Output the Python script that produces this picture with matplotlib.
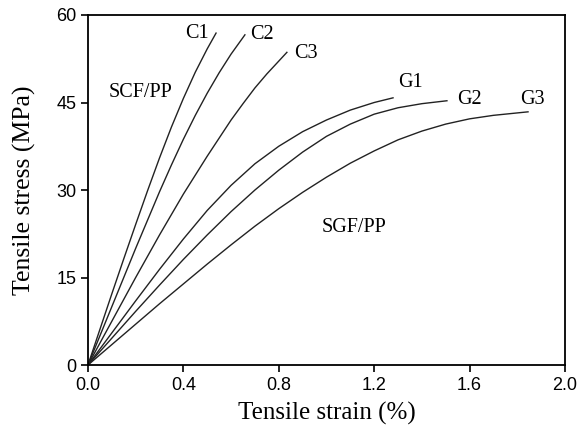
import numpy as np
import matplotlib
matplotlib.use("Agg")
import matplotlib.pyplot as plt

# strain (%) / stress (MPa)
c1_x = [0, 0.05, 0.1, 0.15, 0.2, 0.25, 0.3, 0.35, 0.4, 0.45, 0.5, 0.537]
c1_y = [0, 6.1, 12.2, 18.2, 24.1, 29.9, 35.5, 40.8, 45.7, 50.2, 54.2, 56.9]
c2_x = [0, 0.1, 0.2, 0.3, 0.35, 0.4, 0.45, 0.5, 0.55, 0.6, 0.658]
c2_y = [0, 10.0, 20.0, 29.7, 34.3, 38.7, 42.8, 46.6, 50.1, 53.3, 56.6]
c3_x = [0, 0.1, 0.2, 0.3, 0.4, 0.5, 0.55, 0.6, 0.65, 0.7, 0.75, 0.8, 0.834]
c3_y = [0, 7.5, 15.0, 22.3, 29.3, 35.8, 38.9, 42.0, 44.8, 47.5, 49.9, 52.1, 53.6]
g1_x = [0, 0.1, 0.2, 0.3, 0.4, 0.5, 0.6, 0.7, 0.8, 0.9, 1.0, 1.1, 1.2, 1.279]
g1_y = [0, 5.5, 11.0, 16.4, 21.6, 26.5, 30.8, 34.5, 37.5, 40.0, 42.0, 43.7, 45.0, 45.8]
g2_x = [0, 0.1, 0.2, 0.3, 0.4, 0.5, 0.6, 0.7, 0.8, 0.9, 1.0, 1.1, 1.2, 1.3, 1.4, 1.505]
g2_y = [0, 4.6, 9.2, 13.7, 18.1, 22.3, 26.3, 30.0, 33.4, 36.5, 39.2, 41.3, 43.0, 44.1, 44.8, 45.3]
g3_x = [0, 0.1, 0.2, 0.3, 0.4, 0.5, 0.6, 0.7, 0.8, 0.9, 1.0, 1.1, 1.2, 1.3, 1.4, 1.5, 1.6, 1.7, 1.845]
g3_y = [0, 3.5, 7.0, 10.5, 13.9, 17.3, 20.6, 23.8, 26.8, 29.6, 32.2, 34.6, 36.7, 38.6, 40.1, 41.3, 42.2, 42.8, 43.4]

curves = [(c1_x, c1_y), (c2_x, c2_y), (c3_x, c3_y),
          (g1_x, g1_y), (g2_x, g2_y), (g3_x, g3_y)]

names = ["C1", "C2", "C3", "G1", "G2", "G3"]
name_x = [0.457, 0.729, 0.915, 1.35, 1.60, 1.863]
name_y = [56.9, 56.6, 53.4, 48.4, 45.5, 45.5]

x_ticks = [0.0, 0.4, 0.8, 1.2, 1.6, 2.0]
y_ticks = [0, 15, 30, 45, 60]

serif = "Liberation Serif"
sans = "Liberation Sans"

fig = plt.figure(figsize=(5.78, 4.36), dpi=100)
ax = fig.add_axes([0.1522, 0.1628, 0.8253, 0.8028])

for x, y in curves:
    ax.plot(x, y, color="#222222", lw=1.0)

for n, tx, ty in zip(names, name_x, name_y):
    ax.text(tx, ty, n, family=serif, fontsize=14.5, ha="center", va="center")

ax.text(0.222, 46.8, "SCF/PP", family=serif, fontsize=14.5, ha="center", va="center")
ax.text(1.115, 23.5, "SGF/PP", family=serif, fontsize=14.5, ha="center", va="center")

ax.set_xlim(0, 2.0)
ax.set_ylim(0, 60)
ax.set_xticks(x_ticks)
ax.set_xticklabels(["%.1f" % v for v in x_ticks], family=sans, fontsize=13)
ax.set_yticks(y_ticks)
ax.set_yticklabels([str(v) for v in y_ticks], family=sans, fontsize=13)
ax.tick_params(direction="out", length=5, width=1.2, top=False, right=False)

for s in ax.spines.values():
    s.set_linewidth(1.3)

ax.set_xlabel("Tensile strain (%)", family=serif, fontsize=18, labelpad=6)
ax.set_ylabel("Tensile stress (MPa)", family=serif, fontsize=18.5, labelpad=14)

fig.savefig("out.png", dpi=100)
